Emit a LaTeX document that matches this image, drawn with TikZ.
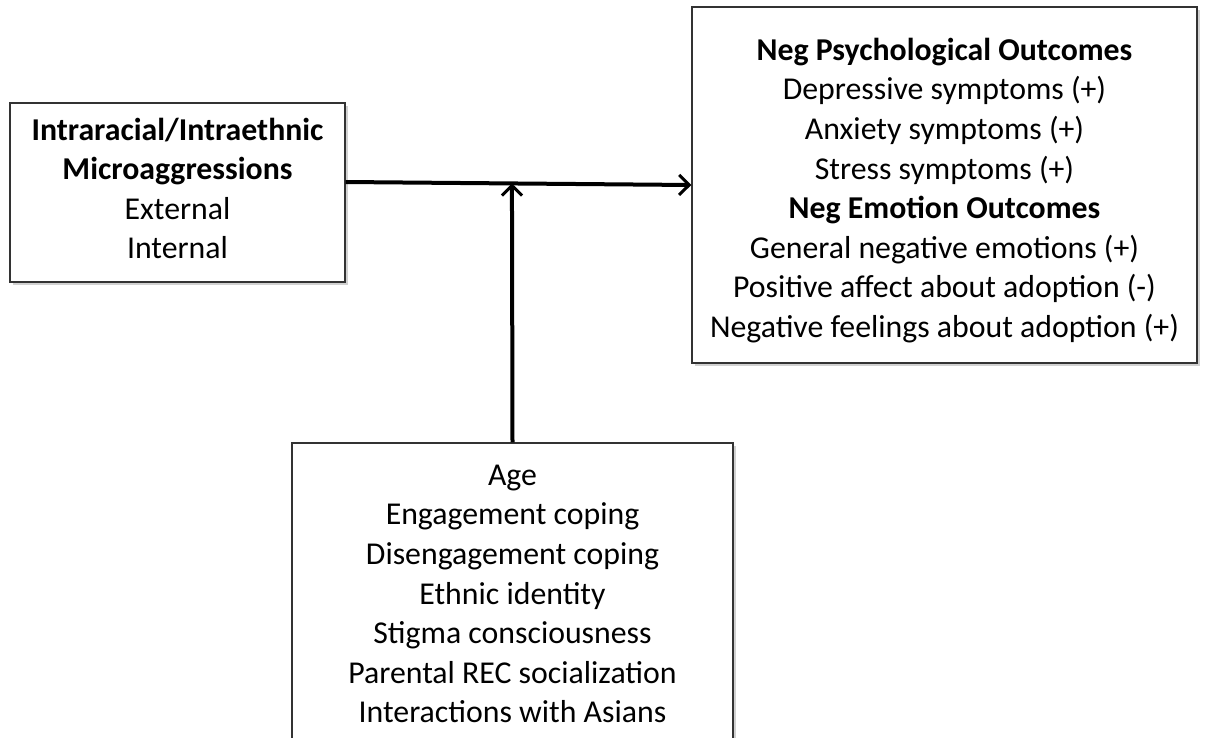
\documentclass[tikz,border=0pt]{standalone}
\usepackage{fontspec}
\setmainfont{Carlito}
\usetikzlibrary{arrows.meta,shadows}
\begin{document}
\begin{tikzpicture}[x=1pt,y=-1pt,
  box/.style={draw=black!80, line width=1.4pt, fill=white, inner sep=0pt,
    drop shadow={shadow xshift=3pt, shadow yshift=-3pt, opacity=0.18, fill=black}},
  txt/.style={align=center, inner sep=0pt, font=\fontsize{31.8}{39.6}\selectfont},
  conn/.style={line width=4pt, -{Straight Barb[length=10pt,width=20pt,line width=3pt]}}]
\useasboundingbox (0,0) rectangle (1224,737);
\clip (0,0) rectangle (1224,737);
\node[box, minimum width=335pt, minimum height=179pt] (a) at (177.5,192.5) {};
\node[txt] (at) at ([yshift=4pt]a.center)
  {\textbf{Intraracial/Intraethnic}\\\textbf{Microaggressions}\\External\\Internal};
\node[box, minimum width=505pt, minimum height=356pt] (c) at (944.5,185) {};
\node[txt] (ct) at ([yshift=-5.5pt]c.center)
  {\textbf{Neg Psychological Outcomes}\\Depressive symptoms (+)\\Anxiety symptoms (+)\\Stress symptoms (+)\\\textbf{Neg Emotion Outcomes}\\General negative emotions (+)\\Positive affect about adoption (-)\\Negative feelings about adoption (+)};
\node[box, minimum width=441pt, minimum height=302pt] (b) at (512.5,594) {};
\node[txt] (bt) at (b.center)
  {Age\\Engagement coping\\Disengagement coping\\Ethnic identity\\Stigma consciousness\\Parental REC socialization\\Interactions with Asians};
\draw[conn] ([yshift=10.5pt]a.east) -- coordinate[pos=0.481] (m) (c.west);
\draw[conn] (b.north) -- (m);
\end{tikzpicture}
\end{document}
